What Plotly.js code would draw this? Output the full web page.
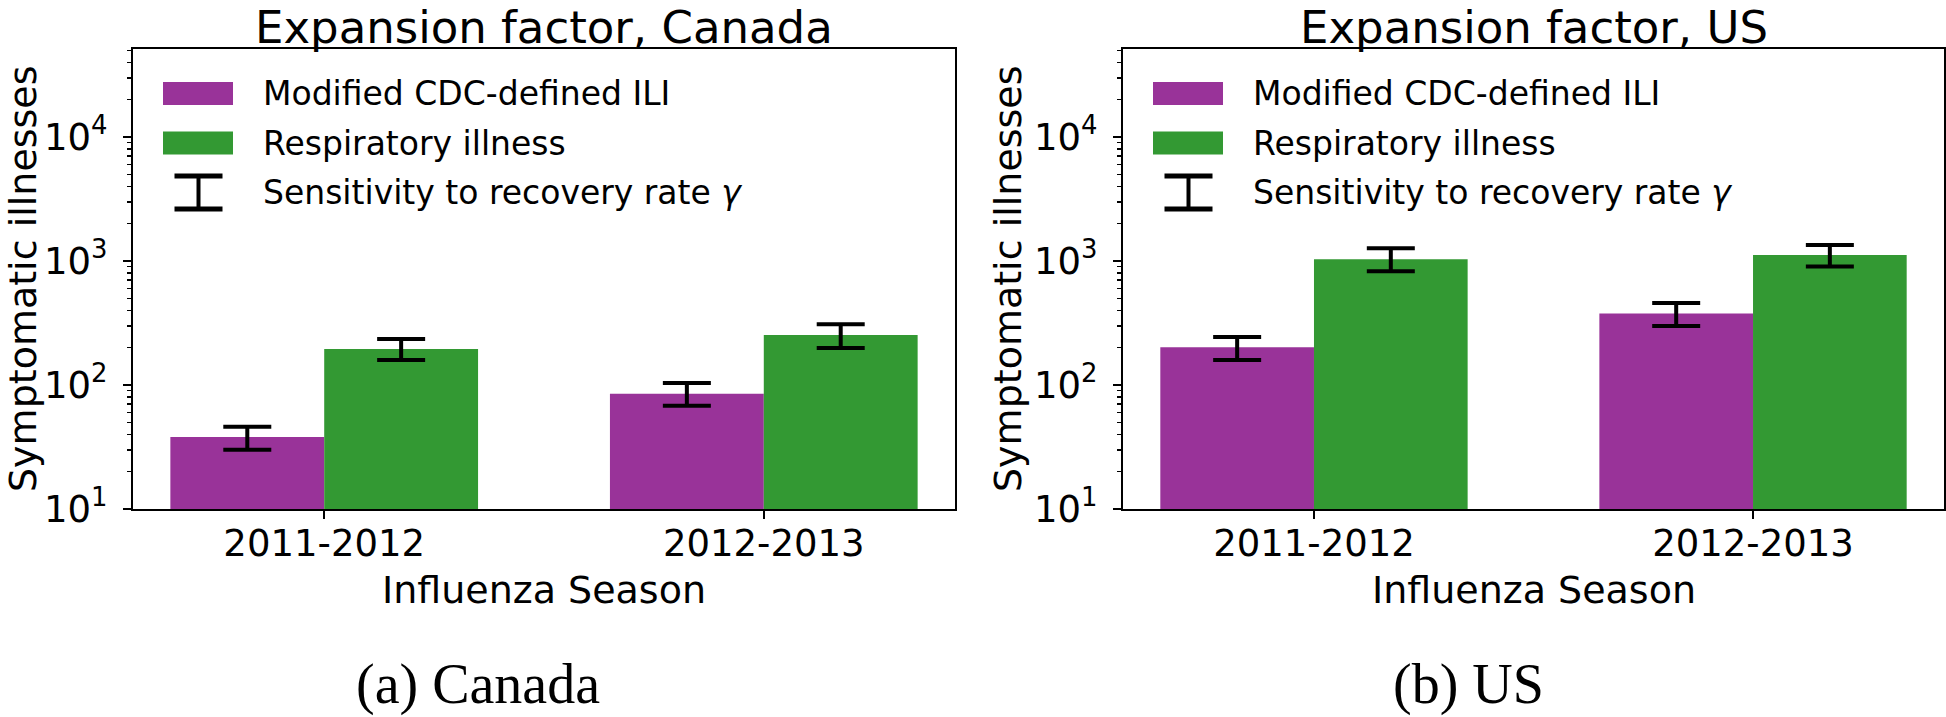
<!DOCTYPE html>
<html>
<head>
<meta charset="utf-8">
<script src="https://cdn.plot.ly/plotly-3.0.1.min.js"></script>
<style>
  html, body { margin: 0; padding: 0; background: #ffffff; }
  #chart { width: 1946px; height: 717px; }
</style>
</head>
<body>
<div id="chart"></div>
<script>
// ---------------- data ----------------
const seasons = ['2011-2012', '2012-2013'];

const canadaILI      = [38, 85];
const canadaILILow   = [30, 68];
const canadaILIHigh  = [46, 104];

const canadaResp     = [195, 253];
const canadaRespLow  = [159, 199];
const canadaRespHigh = [235, 309];

const usILI      = [202, 377];
const usILILow   = [159, 299];
const usILIHigh  = [244, 459];

const usResp     = [1035, 1117];
const usRespLow  = [826, 904];
const usRespHigh = [1265, 1348];

const seriesNames = ['Modified CDC-defined ILI', 'Respiratory illness', 'Sensitivity to recovery rate <i>\u03b3</i>'];
const panelTitles = ['Expansion factor, Canada', 'Expansion factor, US'];
const subCaptions = ['(a) Canada', '(b) US'];
const xTitle = 'Influenza Season';
const yTitle = 'Symptomatic illnesses';
const yTickVals = [10, 100, 1000, 10000];
const yTickText = ['10<sup>1</sup>', '10<sup>2</sup>', '10<sup>3</sup>', '10<sup>4</sup>'];

// ---------------- styling ----------------
const W = 1946, H = 717;
const purple = '#993399';
const green = '#339933';
const FONT = 'DejaVu Sans';
function px(x) { return x / W; }
function py(y) { return 1 - y / H; }

const minorVals = [];
for (let d = 10; d <= 10000; d *= 10) {
  for (let k = 2; k <= 9; k++) minorVals.push(d * k);
}

function errs(vals, lo, hi) {
  return {
    type: 'data', symmetric: false,
    array: vals.map((v, i) => hi[i] - v),
    arrayminus: vals.map((v, i) => v - lo[i]),
    color: '#000000', thickness: 4, width: 24
  };
}

function barTrace(vals, lo, hi, color, name, xa, ya) {
  return {
    type: 'bar', x: seasons, y: vals, name: name,
    marker: { color: color, line: { width: 0 } },
    error_y: errs(vals, lo, hi),
    xaxis: xa, yaxis: ya, showlegend: false,
    hoverinfo: 'x+y'
  };
}

const data = [
  barTrace(canadaILI, canadaILILow, canadaILIHigh, purple, seriesNames[0], 'x', 'y'),
  barTrace(canadaResp, canadaRespLow, canadaRespHigh, green, seriesNames[1], 'x', 'y'),
  barTrace(usILI, usILILow, usILIHigh, purple, seriesNames[0], 'x2', 'y2'),
  barTrace(usResp, usRespLow, usRespHigh, green, seriesNames[1], 'x2', 'y2')
];

function xAxis(dom, anchor) {
  return {
    domain: dom, anchor: anchor, type: 'category',
    range: [-0.435, 1.435],
    showline: true, mirror: true, linecolor: '#000', linewidth: 2,
    ticks: 'outside', ticklen: 8, tickwidth: 2, tickcolor: '#000',
    ticklabelstandoff: -7,
    showgrid: false, zeroline: false, fixedrange: true,
    tickfont: { family: FONT, size: 37, color: '#000' }
  };
}
function yAxis(anchor) {
  return {
    domain: [py(509), py(49)], anchor: anchor, type: 'log',
    range: [1, 4.71],
    showline: true, mirror: true, linecolor: '#000', linewidth: 2,
    tickmode: 'array', tickvals: yTickVals, ticktext: yTickText,
    ticks: 'outside', ticklen: 8, tickwidth: 2, tickcolor: '#000',
    ticklabelstandoff: 8,
    minor: { tickmode: 'array', tickvals: minorVals, ticks: 'outside', ticklen: 4, tickwidth: 1.5, tickcolor: '#000', showgrid: false },
    showgrid: false, zeroline: false, fixedrange: true,
    tickfont: { family: FONT, size: 37, color: '#000' }
  };
}

const panels = [
  { left: 133, right: 955, ytitleX: 23, capX: 478 },
  { left: 1123, right: 1944, ytitleX: 1008, capX: 1468 }
];

const annotations = [];
const shapes = [];
panels.forEach((p, i) => {
  const cx = (p.left + p.right) / 2;
  annotations.push({ xref: 'paper', yref: 'paper', x: px(cx), y: py(0), xanchor: 'center', yanchor: 'top', borderpad: 0,
    text: panelTitles[i], showarrow: false, font: { family: FONT, size: 45, color: '#000' } });
  annotations.push({ xref: 'paper', yref: 'paper', x: px(cx), y: py(590), xanchor: 'center', yanchor: 'middle',
    text: xTitle, showarrow: false, font: { family: FONT, size: 38, color: '#000' } });
  annotations.push({ xref: 'paper', yref: 'paper', x: px(p.ytitleX), y: py(279), xanchor: 'center', yanchor: 'middle',
    text: yTitle, textangle: -90, showarrow: false, font: { family: FONT, size: 38, color: '#000' } });
  annotations.push({ xref: 'paper', yref: 'paper', x: px(p.capX), y: py(717), xanchor: 'center', yanchor: 'bottom', borderpad: 0,
    text: subCaptions[i], showarrow: false, font: { family: 'Liberation Serif', size: 56, color: '#000' } });

  // legend
  const off = p.left - 133;
  const rowsY = [93.5, 143, 192.5];
  [purple, green].forEach((c, k) => {
    shapes.push({ type: 'rect', xref: 'paper', yref: 'paper',
      x0: px(163 + off), x1: px(233 + off), y0: py(rowsY[k] - 11.5), y1: py(rowsY[k] + 11.5),
      fillcolor: c, line: { width: 0 } });
  });
  const ex = 198.5 + off, et = 176, eb = 209;
  shapes.push({ type: 'line', xref: 'paper', yref: 'paper', x0: px(ex), x1: px(ex), y0: py(et), y1: py(eb), line: { color: '#000', width: 4 } });
  shapes.push({ type: 'line', xref: 'paper', yref: 'paper', x0: px(ex - 24), x1: px(ex + 24), y0: py(et), y1: py(et), line: { color: '#000', width: 5 } });
  shapes.push({ type: 'line', xref: 'paper', yref: 'paper', x0: px(ex - 24), x1: px(ex + 24), y0: py(eb), y1: py(eb), line: { color: '#000', width: 5 } });
  seriesNames.forEach((s, k) => {
    annotations.push({ xref: 'paper', yref: 'paper', x: px(261 + off), y: py(rowsY[k]), xanchor: 'left', yanchor: 'middle',
      text: s, showarrow: false, font: { family: FONT, size: 33, color: '#000' } });
  });
});

const layout = {
  width: W, height: H,
  margin: { l: 0, r: 0, t: 0, b: 0 },
  paper_bgcolor: '#ffffff', plot_bgcolor: '#ffffff',
  barmode: 'group', bargap: 0.3, bargroupgap: 0,
  showlegend: false,
  font: { family: FONT, color: '#000' },
  xaxis: xAxis([px(133), px(955)], 'y'),
  yaxis: yAxis('x'),
  xaxis2: xAxis([px(1123), px(1944)], 'y2'),
  yaxis2: yAxis('x2'),
  annotations: annotations,
  shapes: shapes
};

Plotly.newPlot('chart', data, layout, { displayModeBar: false, staticPlot: true });
</script>
</body>
</html>
